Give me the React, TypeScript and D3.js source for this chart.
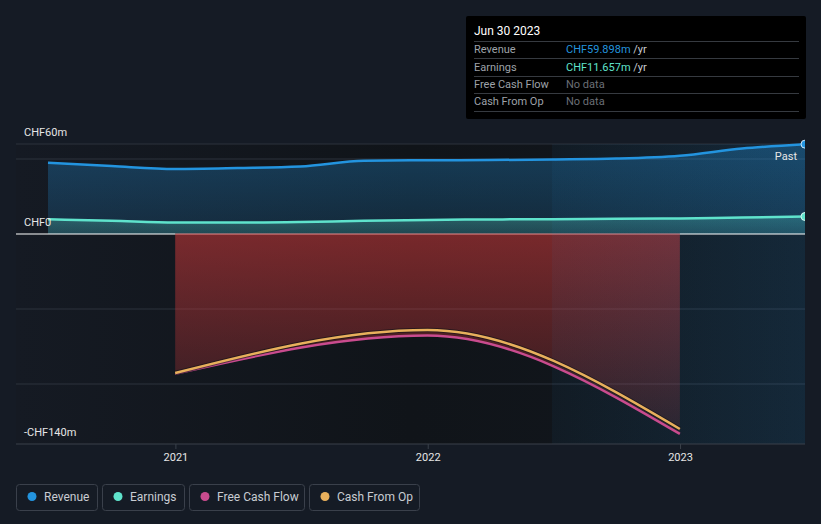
import React from "react";
import * as d3 from "d3";

const quarterDates = [
  "2020-06-30", "2020-09-30", "2020-12-31", "2021-03-31", "2021-06-30",
  "2021-09-30", "2021-12-31", "2022-03-31", "2022-06-30", "2022-09-30",
  "2022-12-31", "2023-03-31", "2023-06-30",
];
const revenue = [47.5, 45.3, 43.4, 44.0, 45.0, 48.8, 49.2, 49.3, 49.7, 50.3, 52.2, 57.0, 59.898];
const earnings = [9.8, 8.8, 7.6, 7.6, 8.0, 8.8, 9.4, 9.7, 9.9, 10.1, 10.4, 11.0, 11.657];

const annualDates = ["2020-12-31", "2021-12-31", "2022-12-31"];
const freeCashFlow = [-93.2, -67.7, -133.3];
const cashFromOp = [-92.7, -64.0, -130.0];

const xTicks = ["2021-01-01", "2022-01-01", "2023-01-01"];
const xTickLabels = ["2021", "2022", "2023"];
const gridValues = [60, 50, -50, -100];

const legendItems = [
  { name: "Revenue", color: "#2394df" },
  { name: "Earnings", color: "#5fe3cc" },
  { name: "Free Cash Flow", color: "#c94b8e" },
  { name: "Cash From Op", color: "#e8b05c" },
];

const tooltipRows = [
  { label: "Revenue", value: "CHF59.898m", unit: " /yr", color: "#2394df" },
  { label: "Earnings", value: "CHF11.657m", unit: " /yr", color: "#5fe3cc" },
  { label: "Free Cash Flow", value: "No data", unit: "", color: "#6b6f76" },
  { label: "Cash From Op", value: "No data", unit: "", color: "#6b6f76" },
];

const W = 821;
const H = 524;
const FONT = "Roboto, 'Open Sans', sans-serif";

export default function App() {
  const parse = (s: string) => new Date(s + "T00:00:00Z");
  const x = d3
    .scaleUtc()
    .domain([parse("2020-06-30"), parse("2023-06-30")])
    .range([48, 805]);
  const y = d3.scaleLinear().domain([-140, 60]).range([444, 144]);

  const qd = quarterDates.map(parse);
  const ad = annualDates.map(parse);

  const revPts = qd.map((d, i) => [d, revenue[i]] as [Date, number]);
  const earnPts = qd.map((d, i) => [d, earnings[i]] as [Date, number]);
  const fcfPts = ad.map((d, i) => [d, freeCashFlow[i]] as [Date, number]);
  const cfoPts = ad.map((d, i) => [d, cashFromOp[i]] as [Date, number]);

  const line = d3
    .line<[Date, number]>()
    .x((p) => x(p[0]))
    .y((p) => y(p[1]))
    .curve(d3.curveMonotoneX);
  const area = d3
    .area<[Date, number]>()
    .x((p) => x(p[0]))
    .y0(y(0))
    .y1((p) => y(p[1]))
    .curve(d3.curveMonotoneX);

  const left = 16;
  const right = 805;
  const hiStart = 552;

  const legendBoxes = [
    { x: 16, w: 81 },
    { x: 102, w: 82 },
    { x: 189, w: 115 },
    { x: 309, w: 110 },
  ];

  return (
    <svg
      width={W}
      height={H}
      style={{ position: "absolute", left: 0, top: 0, background: "#151b25", fontFamily: FONT }}
    >
      <defs>
        <linearGradient id="plotBg" x1="0" x2="1" y1="0" y2="0">
          <stop offset="0" stopColor="#151a23" />
          <stop offset="0.5" stopColor="#101419" />
          <stop offset="1" stopColor="#12171e" />
        </linearGradient>
        <linearGradient id="hiBg" x1="0" x2="1" y1="0" y2="0">
          <stop offset="0" stopColor="#2394df" stopOpacity="0.05" />
          <stop offset="1" stopColor="#2394df" stopOpacity="0.14" />
        </linearGradient>
        <linearGradient id="revFill" x1="0" x2="0" y1="0" y2="1">
          <stop offset="0" stopColor="#2394df" stopOpacity="0.32" />
          <stop offset="1" stopColor="#2394df" stopOpacity="0.16" />
        </linearGradient>
        <linearGradient id="earnFill" x1="0" x2="0" y1="0" y2="1">
          <stop offset="0" stopColor="#5fe3cc" stopOpacity="0.28" />
          <stop offset="1" stopColor="#5fe3cc" stopOpacity="0.16" />
        </linearGradient>
        <linearGradient id="redFill" gradientUnits="userSpaceOnUse" x1="0" x2="0" y1={y(0)} y2={y(-140)}>
          <stop offset="0" stopColor="#e03c3c" stopOpacity="0.5" />
          <stop offset="1" stopColor="#e03c3c" stopOpacity="0.1" />
        </linearGradient>
        <clipPath id="plotClip">
          <rect x={left} y={130} width={right - left} height={330} />
        </clipPath>
      </defs>

      {/* plot background */}
      <rect x={left} y={y(60)} width={right - left} height={y(-140) - y(60)} fill="url(#plotBg)" />

      {/* gridlines */}
      {gridValues.map((v) => (
        <line key={v} x1={left} x2={right} y1={y(v)} y2={y(v)} stroke="#2c323c" strokeWidth={1} />
      ))}

      <g clipPath="url(#plotClip)">
        {/* areas */}
        <path d={area(revPts) || ""} fill="url(#revFill)" />
        <path d={area(earnPts) || ""} fill="url(#earnFill)" />
        <path d={area(fcfPts) || ""} fill="url(#redFill)" />
        <line x1={x(ad[0])} x2={x(ad[2])} y1={y(0)} y2={y(0)} stroke="#e98a8a" strokeWidth={1} />

        {/* highlighted region */}
        <rect x={hiStart} y={y(60)} width={right - hiStart} height={y(-140) - y(60)} fill="url(#hiBg)" />

        {/* zero line */}
        <line x1={left} x2={x(ad[0])} y1={y(0)} y2={y(0)} stroke="#ffffff" strokeWidth={1.2} />
        <line x1={x(ad[2])} x2={right} y1={y(0)} y2={y(0)} stroke="#ffffff" strokeWidth={1.2} />

        {/* lines */}
        <path d={line(revPts) || ""} fill="none" stroke="#2394df" strokeWidth={2.5} />
        <path d={line(earnPts) || ""} fill="none" stroke="#5fe3cc" strokeWidth={2.5} />
        <path d={line(fcfPts) || ""} fill="none" stroke="#c94b8e" strokeWidth={2.5} />
        <path d={line(cfoPts) || ""} fill="none" stroke="#111318" strokeWidth={4.5} opacity={0.6} />
        <path d={line(cfoPts) || ""} fill="none" stroke="#e8b05c" strokeWidth={2.5} />

        {/* end dots */}
        <circle cx={x(qd[qd.length - 1])} cy={y(revenue[revenue.length - 1])} r={4} fill="#2394df" stroke="#cfe6f7" strokeWidth={1} />
        <circle cx={x(qd[qd.length - 1])} cy={y(earnings[earnings.length - 1])} r={4} fill="#5fe3cc" stroke="#d9f8f2" strokeWidth={1} />
      </g>

      {/* bottom axis */}
      <line x1={left} x2={right} y1={y(-140)} y2={y(-140)} stroke="#3a404a" strokeWidth={1} />
      {xTicks.map((t, i) => (
        <g key={t}>
          <line x1={x(parse(t))} x2={x(parse(t))} y1={y(-140)} y2={y(-140) + 5} stroke="#3a404a" />
          <text x={x(parse(t))} y={461} textAnchor="middle" fill="#e6e6e6" fontSize={11}>
            {xTickLabels[i]}
          </text>
        </g>
      ))}

      {/* y labels */}
      <text x={24} y={136} fill="#e6e6e6" fontSize={11}>CHF60m</text>
      <text x={24} y={226} fill="#e6e6e6" fontSize={11}>CHF0</text>
      <text x={24} y={436} fill="#e6e6e6" fontSize={11}>-CHF140m</text>

      <text x={797} y={160} textAnchor="end" fill="#e6e6e6" fontSize={11}>Past</text>

      {/* tooltip */}
      <rect x={466} y={16} width={340} height={103} fill="#000000" rx={2} />
      <text x={474} y={35} fill="#ffffff" fontSize={12}>Jun 30 2023</text>
      {[41, 58, 76, 93, 111].map((ly) => (
        <line key={ly} x1={474} x2={799} y1={ly + 0.5} y2={ly + 0.5} stroke="#363a40" />
      ))}
      {tooltipRows.map((r, i) => {
        const cy = [49.3, 66.7, 84.3, 101.3][i];
        return (
          <g key={r.label}>
            <text x={474} y={cy + 4} fill="#9ea2a9" fontSize={11}>{r.label}</text>
            <text x={566} y={cy + 4} fontSize={11}>
              <tspan fill={r.color}>{r.value}</tspan>
              <tspan fill="#c8ccd2">{r.unit}</tspan>
            </text>
          </g>
        );
      })}

      {/* legend */}
      {legendItems.map((it, i) => {
        const b = legendBoxes[i];
        return (
          <g key={it.name}>
            <rect x={b.x + 0.5} y={484.5} width={b.w} height={26} rx={3} fill="none" stroke="#3a404b" />
            <circle cx={b.x + 16} cy={496.5} r={4.5} fill={it.color} />
            <text x={b.x + 28} y={500.5} fill="#c8ccd2" fontSize={12}>{it.name}</text>
          </g>
        );
      })}
    </svg>
  );
}
